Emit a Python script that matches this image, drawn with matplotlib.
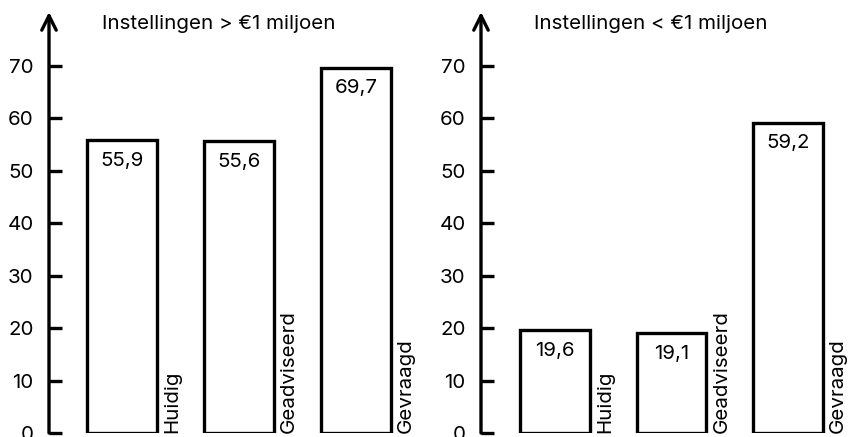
import matplotlib
matplotlib.use('Agg')
import matplotlib.pyplot as plt

plt.rcParams['font.family'] = ['Inter', 'DejaVu Sans']

CATEGORIES = ['Huidig', 'Geadviseerd', 'Gevraagd']
TITLES = ['Instellingen > €1 miljoen', 'Instellingen < €1 miljoen']
VALUES_GROOT = [55.9, 55.6, 69.7]
VALUES_KLEIN = [19.6, 19.1, 59.2]
Y_TICKS = [0, 10, 20, 30, 40, 50, 60, 70]

W, H = 854, 437
Y_TOP = 80.3
BAR_W = 0.6
FS = 14.8
LW = 2.4


def fmt(v):
    return f'{v:.1f}'.replace('.', ',')


def draw_panel(fig, spine_px, step_px, first_px, title, values):
    right_px = spine_px + 380
    left = spine_px / W
    width = (right_px - spine_px) / W
    ax = fig.add_axes([left, 4 / H, width, (433 - 12) / H])
    x0 = (spine_px - first_px) / step_px
    x1 = (right_px - first_px) / step_px
    ax.set_xlim(x0, x1)
    ax.set_ylim(0, Y_TOP)

    xs = list(range(len(values)))
    ax.bar(xs, values, width=BAR_W, color='white', edgecolor='black',
           linewidth=LW, zorder=2)
    for x, v in zip(xs, values):
        ax.annotate(fmt(v), xy=(x, v), xytext=(0, -15), textcoords='offset points',
                    ha='center', va='center', fontsize=FS)
        ax.text(x + BAR_W / 2 + 0.05, 0, CATEGORIES[x], rotation=90,
                ha='left', va='bottom', fontsize=FS)

    for s in ['top', 'right', 'bottom', 'left']:
        ax.spines[s].set_visible(False)
    ax.annotate('', xy=(x0, Y_TOP), xytext=(x0, 0), xycoords='data',
                arrowprops=dict(arrowstyle='->', lw=LW, color='black',
                                mutation_scale=26, shrinkA=0, shrinkB=0),
                annotation_clip=False)
    ax.set_xticks([])
    ax.set_yticks(Y_TICKS)
    ax.tick_params(axis='y', direction='in', length=9, width=LW,
                   labelsize=FS, pad=11)
    ax.text(x0 + (102 - 49) / step_px, 78.1, title, ha='left', va='center',
            fontsize=FS)
    return ax


fig = plt.figure(figsize=(W / 100, H / 100), dpi=100)
draw_panel(fig, 49, 117, 122, TITLES[0], VALUES_GROOT)
draw_panel(fig, 481, 116.5, 555, TITLES[1], VALUES_KLEIN)
fig.savefig('out.png', dpi=100)
